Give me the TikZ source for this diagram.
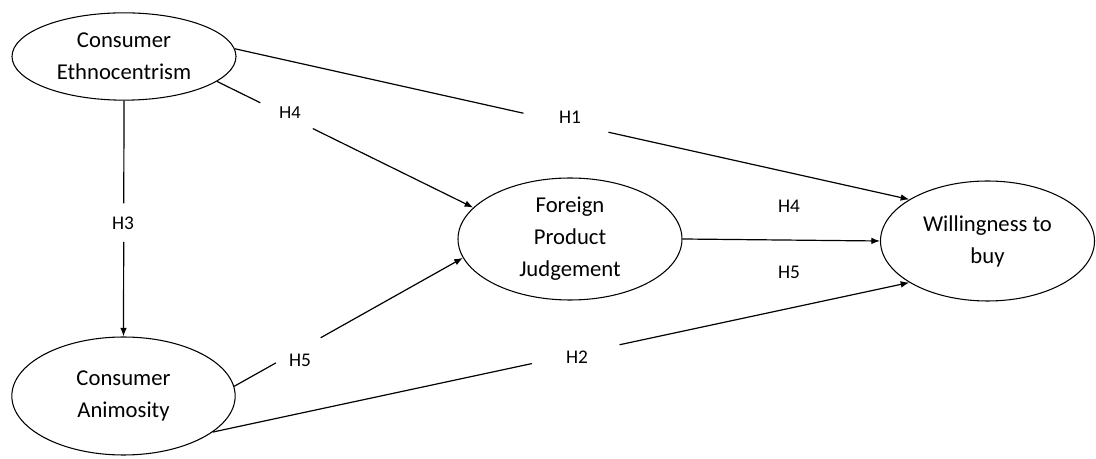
\documentclass[tikz,border=0pt]{standalone}
\usepackage{fontspec}
\setmainfont{Carlito}
\newfontfamily\arialfont{Liberation Sans}
\usetikzlibrary{shapes.geometric,arrows.meta}
\tikzset{
  construct/.style={ellipse,draw,line width=0.8pt,inner sep=0pt,align=center,
    font=\fontsize{17}{24}\selectfont},
  hlabel/.style={inner sep=0pt,font=\fontsize{14.5}{16}\selectfont},
  conn/.style={line width=0.9pt},
  arr/.style={conn,-{Latex[length=6.5pt,width=5pt]}}
}
\begin{document}
\begin{tikzpicture}[x=0.75pt,y=-0.75pt]
\useasboundingbox (0,0) rectangle (1096,459);
% constructs
\node[construct,minimum width=168pt,minimum height=65.5pt] (E) at (124,56.5) {Consumer\\Ethnocentrism};
\node[construct,minimum width=167.5pt,minimum height=88.5pt] (A) at (123.5,396) {Consumer\\Animosity};
\node[construct,minimum width=168pt,minimum height=91.5pt] (F) at (570,239) {Foreign\\Product\\Judgement};
\node[construct,minimum width=160.5pt,minimum height=90pt] (W) at (987.5,241) {Willingness to\\buy};
% H3: E -> A
\path (E.south) -- coordinate[pos=0.435] (h3a) coordinate[pos=0.599] (h3b) (A.north);
\draw[conn] (E.south) -- (h3a);
\draw[arr] (h3b) -- (A.north);
\node[hlabel] (lH3) at (123,223) {H3};
% H4: E -> F
\path (E.-15) -- coordinate[pos=0.169] (h4a) coordinate[pos=0.374] (h4b) (F.162);
\draw[conn] (E.-15) -- (h4a);
\draw[arr] (h4b) -- (F.162);
\node[hlabel,font=\arialfont\fontsize{12.8}{15}\selectfont] (lH4a) at (290,113) {H4};
% H1: E -> W
\path (E.4) -- coordinate[pos=0.428] (h1a) coordinate[pos=0.554] (h1b) (W.152);
\draw[conn] (E.4) -- (h1a);
\draw[arr] (h1b) -- (W.152);
\node[hlabel] (lH1) at (570,117) {H1};
% F -> W
\draw[arr] (F.east) -- (W.west);
\node[hlabel] (lH4b) at (789,206) {H4};
\node[hlabel] (lH5b) at (789,272) {H5};
% H5: A -> F
\path (A.5) -- coordinate[pos=0.182] (h5a) coordinate[pos=0.378] (h5b) (F.190);
\draw[conn] (A.5) -- (h5a);
\draw[arr] (h5b) -- (F.190);
\node[hlabel] (lH5a) at (300,360) {H5};
% H2: A -> W
\path (A.-22) -- coordinate[pos=0.458] (h2a) coordinate[pos=0.584] (h2b) (W.208);
\draw[conn] (A.-22) -- (h2a);
\draw[arr] (h2b) -- (W.208);
\node[hlabel] (lH2) at (577,357) {H2};
\end{tikzpicture}
\end{document}
